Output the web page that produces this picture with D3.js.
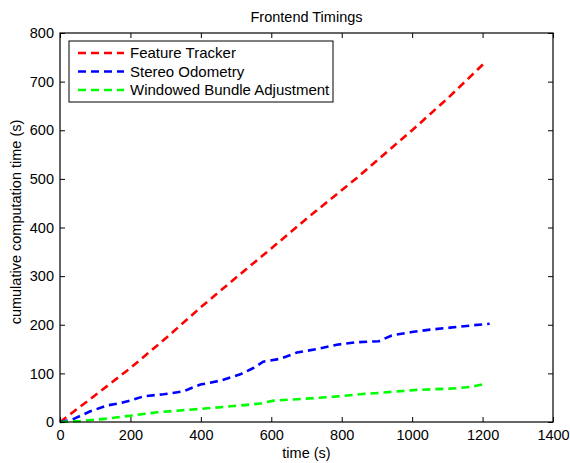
<!DOCTYPE html>
<html>
<head>
<meta charset="utf-8">
<script src="https://cdn.jsdelivr.net/npm/d3@7/dist/d3.min.js"></script>
<style>
  body { margin: 0; background: #fff; }
  svg text { font-family: "Liberation Sans", Arial, sans-serif; fill: #000; }
</style>
</head>
<body>
<svg id="chart" width="570" height="463"></svg>
<script>
/* ===== data ===== */

const trackerT = [0, 100, 200, 300, 403, 500, 600, 700, 843, 1000, 1100, 1205];
const trackerV = [0, 55, 111, 172, 238, 297, 357, 418, 502, 600, 665, 738];

const odometryT = [0, 35, 86, 134, 172, 200, 238, 294, 351, 370, 399, 455, 512, 549, 577, 626, 673, 730, 786, 843, 905, 942, 999, 1051, 1108, 1174, 1220];
const odometryV = [0, 5, 22, 34, 39, 44, 53, 57, 63, 69, 77, 85, 98, 111, 124, 130, 143, 150, 159, 164, 166, 178, 185, 190, 194, 199, 202];

const bundleT = [0, 58, 134, 200, 276, 399, 512, 569, 607, 700, 777, 867, 909, 1013, 1117, 1165, 1212];
const bundleV = [0, 2, 7, 13, 20, 27, 34, 38, 44, 48, 52, 58, 60, 66, 69, 72, 79];

const seriesNames = ["Feature Tracker", "Stereo Odometry", "Windowed Bundle Adjustment"];
const seriesColors = ["#ff0000", "#0000ff", "#00ff00"];

const xTicks = [0, 200, 400, 600, 800, 1000, 1200, 1400];
const yTicks = [0, 100, 200, 300, 400, 500, 600, 700, 800];

const series = [
    { name: seriesNames[0], color: seriesColors[0], t: trackerT, v: trackerV },
    { name: seriesNames[1], color: seriesColors[1], t: odometryT, v: odometryV },
    { name: seriesNames[2], color: seriesColors[2], t: bundleT, v: bundleV }
];

/* ===== layout ===== */

const fontSize = 14.5;
const margin = { top: 33, right: 17, bottom: 41, left: 60 };
const svg = d3.select("#chart");
const W = +svg.attr("width"), H = +svg.attr("height");
const w = W - margin.left - margin.right;
const h = H - margin.top - margin.bottom;

const x = d3.scaleLinear().domain([0, 1400]).range([0, w]);
const y = d3.scaleLinear().domain([0, 800]).range([h, 0]);

const g = svg.append("g").attr("transform", `translate(${margin.left},${margin.top})`);

/* ===== lines ===== */

const line = d3.line()
    .x(d => x(d[0]))
    .y(d => y(d[1]));

series.forEach(s => {
    g.append("path")
        .datum(s.t.map((t, i) => [t, s.v[i]]))
        .attr("fill", "none")
        .attr("stroke", s.color)
        .attr("stroke-width", 2.6)
        .attr("stroke-dasharray", "8,5")
        .attr("d", line);
});

/* ===== axes (matlab style: ticks inside, on all sides) ===== */

const tickLen = 5;
const fmt = d3.format("d");

g.append("g")
    .attr("transform", `translate(0,${h})`)
    .call(d3.axisBottom(x).tickValues(xTicks).tickSize(-tickLen).tickPadding(8).tickFormat(fmt))
    .call(a => a.select(".domain").remove());

g.append("g")
    .call(d3.axisTop(x).tickValues(xTicks).tickSize(-tickLen).tickFormat(""))
    .call(a => a.select(".domain").remove());

g.append("g")
    .call(d3.axisLeft(y).tickValues(yTicks).tickSize(-tickLen).tickPadding(6).tickFormat(fmt))
    .call(a => a.select(".domain").remove());

g.append("g")
    .attr("transform", `translate(${w},0)`)
    .call(d3.axisRight(y).tickValues(yTicks).tickSize(-tickLen).tickFormat(""))
    .call(a => a.select(".domain").remove());

g.selectAll(".tick line").attr("stroke", "#000");
g.selectAll(".tick text").attr("font-size", fontSize).attr("font-family", "Liberation Sans, Arial, sans-serif");

// frame
g.append("rect")
    .attr("width", w)
    .attr("height", h)
    .attr("fill", "none")
    .attr("stroke", "#000")
    .attr("stroke-width", 1.2);

/* ===== labels ===== */

svg.append("text")
    .attr("x", margin.left + w / 2)
    .attr("y", 22)
    .attr("text-anchor", "middle")
    .attr("font-size", fontSize)
    .text("Frontend Timings");

svg.append("text")
    .attr("x", margin.left + w / 2)
    .attr("y", 458)
    .attr("text-anchor", "middle")
    .attr("font-size", fontSize)
    .text("time (s)");

svg.append("text")
    .attr("transform", "translate(21,222) rotate(-90)")
    .attr("text-anchor", "middle")
    .attr("font-size", fontSize)
    .text("cumulative computation time (s)");

/* ===== legend ===== */

const legend = g.append("g").attr("transform", "translate(9,8)");

legend.append("rect")
    .attr("width", 264)
    .attr("height", 61)
    .attr("fill", "#fff")
    .attr("stroke", "#000");

series.forEach((s, i) => {
    const ly = 12 + i * 18.5;
    legend.append("line")
        .attr("x1", 9).attr("x2", 55)
        .attr("y1", ly).attr("y2", ly)
        .attr("stroke", s.color)
        .attr("stroke-width", 2.6)
        .attr("stroke-dasharray", "8,5");
    legend.append("text")
        .attr("x", 61)
        .attr("y", ly)
        .attr("dy", "0.35em")
        .attr("font-size", 15)
        .text(s.name);
});
</script>
</body>
</html>
